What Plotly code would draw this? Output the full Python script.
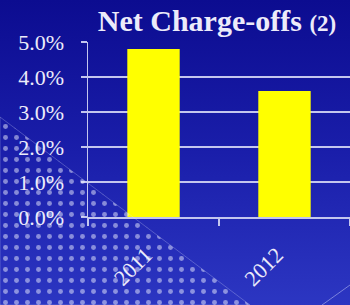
import plotly.graph_objects as go

# ---- data ----
years = ["2011", "2012"]
net_charge_offs = [4.8, 3.6]          # percent
y_tick_values = [0, 1, 2, 3, 4, 5]
y_tick_labels = ["0.0%", "1.0%", "2.0%", "3.0%", "4.0%", "5.0%"]

W, H = 350, 305
SERIF = "Liberation Serif, Times New Roman, serif"
LINE = "#c4c6ee"
TEXT = "#ecebfa"

fig = go.Figure()

# background gradient (subplot 1, full page, pixel coordinates)
fig.add_trace(go.Scatter(
    x=[0, W, W, 0, 0], y=[0, 0, H, H, 0], xaxis="x", yaxis="y",
    mode="lines", line=dict(width=0), fill="toself",
    fillgradient=dict(type="vertical",
                      colorscale=[[0, "#2c36c2"], [0.5, "#1a1eaa"], [1, "#0c0c90"]]),
    hoverinfo="skip", showlegend=False))

# bars (subplot 2)
fig.add_trace(go.Bar(
    x=years, y=net_charge_offs, xaxis="x2", yaxis="y2",
    marker=dict(color="#ffff00", line=dict(width=0)),
    width=0.4, hoverinfo="skip", showlegend=False))

# dotted decorative triangle (subplot 3, drawn on top)
fig.add_trace(go.Scatter(
    x=[0, 0, 250, 0], y=[188, 0, 0, 188], xaxis="x3", yaxis="y3",
    mode="lines", line=dict(width=0.6, color="rgba(220,225,255,0.45)"),
    fill="toself", fillcolor="rgba(0,0,0,0)",
    fillpattern=dict(shape=".", size=11, solidity=0.16,
                     fgcolor="#eef0ff", bgcolor="rgba(0,0,0,0)"),
    hoverinfo="skip", showlegend=False))
fig.add_trace(go.Scatter(
    x=[322, W], y=[0, 20], xaxis="x3", yaxis="y3",
    mode="lines", line=dict(width=1, color="rgba(220,225,255,0.45)"),
    hoverinfo="skip", showlegend=False))

hidden = dict(visible=False, fixedrange=True, showgrid=False, zeroline=False)

fig.update_layout(
    width=W, height=H, autosize=False,
    margin=dict(l=0, r=0, t=0, b=0, pad=0),
    paper_bgcolor="#15169c", plot_bgcolor="rgba(0,0,0,0)",
    hovermode=False, showlegend=False,
    bargap=0.6,
    title=dict(
        text="<b>Net Charge-offs <span style='font-size:23px'>(2)</span></b>",
        x=217 / W, xanchor="center", y=1 - 20 / H, yanchor="middle",
        font=dict(family=SERIF, size=30, color=TEXT)),
    xaxis=dict(domain=[0, 1], range=[0, W], anchor="y", **hidden),
    yaxis=dict(domain=[0, 1], range=[0, H], anchor="x", **hidden),
    xaxis2=dict(domain=[88 / W, 1], anchor="y2", type="category",
                tickvals=years, ticktext=[y + "\u00a0\u00a0" for y in years],
                showline=True, linecolor=LINE, linewidth=1.5,
                ticks="outside", tickson="boundaries", ticklen=7,
                tickcolor=LINE, tickwidth=1.5,
                tickangle=-45, showgrid=False, zeroline=False,
                ticklabelstandoff=7,
                tickfont=dict(family=SERIF, size=22, color=TEXT),
                automargin=False, fixedrange=True),
    yaxis2=dict(domain=[88 / H, 263 / H], anchor="x2", range=[0, 5],
                tickvals=y_tick_values, ticktext=y_tick_labels,
                showline=True, linecolor=LINE, linewidth=1.5,
                ticks="outside", ticklen=6, tickcolor=LINE, tickwidth=1.5,
                showgrid=True, gridcolor=LINE, gridwidth=1.5, zeroline=False,
                ticklabelstandoff=12,
                tickfont=dict(family=SERIF, size=22, color=TEXT),
                automargin=False, fixedrange=True),
    xaxis3=dict(domain=[0, 1], range=[0, W], anchor="y3", **hidden),
    yaxis3=dict(domain=[0, 1], range=[0, H], anchor="x3", **hidden),
)

fig.write_html("out.html", config={"displayModeBar": False, "staticPlot": True},
               post_script="document.body.style.margin='0';document.body.style.overflow='hidden';")
